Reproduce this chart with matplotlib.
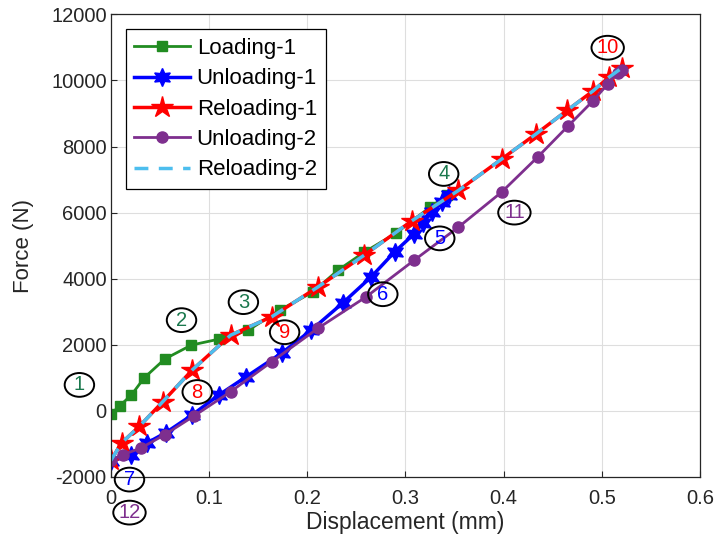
import matplotlib.pyplot as plt
from matplotlib.patches import Ellipse

plt.rcParams["font.family"] = ["Liberation Sans", "DejaVu Sans"]
plt.rcParams["axes.unicode_minus"] = False

# data
load1_x = [0, 0.009, 0.021, 0.034, 0.055, 0.082, 0.11, 0.14, 0.172, 0.206, 0.231, 0.258, 0.29, 0.325, 0.342]
load1_y = [-100, 150, 480, 1000, 1570, 1990, 2170, 2440, 3050, 3600, 4250, 4800, 5370, 6160, 6520]

unload1_x = [0.344, 0.337, 0.327, 0.318, 0.309, 0.289, 0.265, 0.236, 0.204, 0.174, 0.138, 0.11, 0.083, 0.056, 0.037, 0.021, 0]
unload1_y = [6520, 6310, 6010, 5700, 5360, 4810, 4050, 3260, 2440, 1750, 1035, 480, -120, -660, -970, -1330, -1530]

reload1_x = [0, 0.011, 0.029, 0.053, 0.083, 0.122, 0.164, 0.211, 0.258, 0.307, 0.354, 0.398, 0.433, 0.465, 0.491, 0.507, 0.521]
reload1_y = [-1500, -970, -470, 280, 1240, 2290, 2850, 3750, 4710, 5760, 6670, 7620, 8380, 9100, 9680, 10090, 10390]

unload2_x = [0.521, 0.516, 0.506, 0.491, 0.466, 0.435, 0.398, 0.354, 0.309, 0.26, 0.211, 0.164, 0.122, 0.085, 0.055, 0.031, 0.012, 0]
unload2_y = [10330, 10240, 9890, 9380, 8630, 7690, 6620, 5560, 4560, 3450, 2500, 1490, 580, -150, -720, -1120, -1330, -1480]

reload2_x = [0, 0.011, 0.029, 0.053, 0.083, 0.122, 0.164, 0.211, 0.258, 0.307, 0.354, 0.398, 0.433, 0.465, 0.491, 0.507, 0.521]
reload2_y = [-1500, -970, -470, 280, 1240, 2290, 2850, 3750, 4710, 5760, 6670, 7620, 8380, 9100, 9680, 10090, 10390]

# circled point labels
lab_text = ["1", "2", "3", "4", "5", "6", "7", "8", "9", "10", "11", "12"]
lab_x = [-0.032, 0.072, 0.135, 0.339, 0.335, 0.277, 0.019, 0.088, 0.177, 0.506, 0.411, 0.019]
lab_y = [785, 2745, 3290, 7170, 5220, 3530, -2080, 570, 2380, 10990, 6000, -3080]

green = (0.13, 0.55, 0.13)
lab_green = (0.1, 0.47, 0.3)
purple = "#7E2F8E"
lblue = "#4DBEEE"
lab_col = [lab_green] * 4 + ["blue"] * 3 + ["red"] * 3 + [purple] * 2

fig = plt.figure(figsize=(7.15, 5.52), dpi=100)
ax = fig.add_axes([0.155, 0.136, 0.824, 0.838])

ax.plot(load1_x, load1_y, "-s", color=green, lw=2, ms=7, label="Loading-1")
ax.plot(unload1_x, unload1_y, "-", marker=(6, 1, 0), color="blue", lw=2.5, ms=13, label="Unloading-1")
ax.plot(reload1_x, reload1_y, "-*", color="red", lw=2.5, ms=16, label="Reloading-1")
ax.plot(unload2_x, unload2_y, "-o", color=purple, lw=2, ms=8, label="Unloading-2")
ax.plot(reload2_x, reload2_y, "--", color=lblue, lw=2.5, dashes=(4, 3), label="Reloading-2")

for t, x, y, c in zip(lab_text, lab_x, lab_y, lab_col):
    w = 0.030 if len(t) == 1 else 0.033
    ax.add_patch(Ellipse((x, y), w, 720, fc="none", ec="black", lw=1.4, clip_on=False, zorder=5))
    ax.text(x, y, t, color=c, fontsize=14.5, ha="center", va="center", clip_on=False, zorder=6)

ax.set_xlim(0, 0.6)
ax.set_ylim(-2000, 12000)
ax.set_xticks([0, 0.1, 0.2, 0.3, 0.4, 0.5, 0.6])
ax.set_xticklabels(["0", "0.1", "0.2", "0.3", "0.4", "0.5", "0.6"])
ax.set_yticks(range(-2000, 12001, 2000))
ax.tick_params(direction="in", labelsize=14.5, colors="#262626", length=4)
ax.tick_params(axis="x", pad=9)
ax.tick_params(axis="y", pad=3)
ax.grid(True, color="#dedede", lw=0.8)
ax.set_axisbelow(True)
for s in ax.spines.values():
    s.set_color("#262626")
    s.set_linewidth(0.9)

ax.set_xlabel("Displacement (mm)", fontsize=16.5, color="#262626", labelpad=2)
ax.set_ylabel("Force (N)", fontsize=16, color="#262626", labelpad=12)

leg = ax.legend(loc="upper left", bbox_to_anchor=(0.025, 0.968), borderaxespad=0, fontsize=16,
                handlelength=2.5, fancybox=False, framealpha=1, edgecolor="black", borderpad=0.4,
                labelspacing=0.42, handletextpad=0.3)
leg.get_frame().set_linewidth(0.9)

fig.savefig("out.png", dpi=100)
